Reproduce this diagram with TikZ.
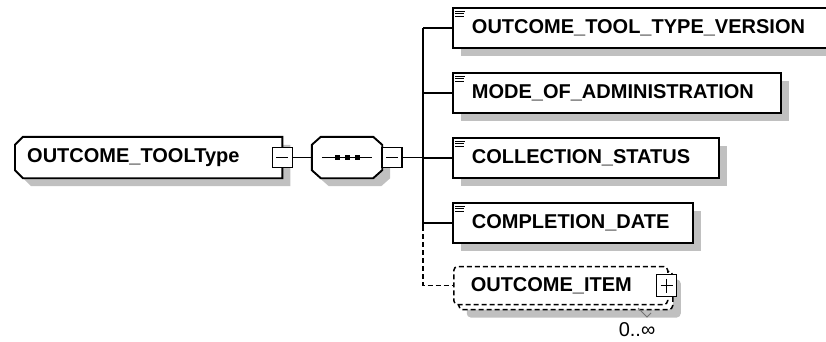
\documentclass[tikz,border=0pt]{standalone}
\usepackage{fontspec}
\setmainfont{Liberation Sans}
\usetikzlibrary{shadows,backgrounds}
\definecolor{shadowgray}{RGB}{192,192,192}
\tikzset{
  boxshadow/.style={drop shadow={shadow xshift=8pt,shadow yshift=-8pt,fill=shadowgray,opacity=1}},
  labelfont/.style={font=\fontsize{20}{24}\selectfont\bfseries},
  elem/.style={draw, fill=white, line width=1.9pt, anchor=west, inner xsep=19pt, inner ysep=0pt,
    minimum height=40pt, align=left, labelfont, boxshadow},
  typebox/.style={anchor=west, inner xsep=12pt, inner ysep=0pt, minimum height=41pt, align=left, labelfont},
  seqbox/.style={minimum width=70pt, minimum height=41pt, inner sep=0pt},
  outline/.style={draw, fill=white, line width=1.9pt, boxshadow},
  optbox/.style={draw, fill=white, line width=1.5pt, dash pattern=on 5pt off 3pt, rounded corners=4pt,
    anchor=west, inner xsep=17pt, inner ysep=0pt, minimum height=38pt, align=left, labelfont},
  minusbox/.style={draw, fill=white, line width=1.6pt, minimum width=20pt, minimum height=20pt, inner sep=0pt,
    path picture={\draw[line width=1.4pt] ([xshift=4pt]path picture bounding box.west)
      -- ([xshift=-4pt]path picture bounding box.east);}},
  plusbox/.style={draw, fill=white, line width=1.6pt, minimum width=20pt, minimum height=22pt, inner sep=0pt,
    path picture={\draw[line width=1.4pt] ([xshift=4pt]path picture bounding box.west)
      -- ([xshift=-4pt]path picture bounding box.east);
      \draw[line width=1.4pt] ([yshift=-4pt]path picture bounding box.north)
      -- ([yshift=4pt]path picture bounding box.south);}},
  link/.style={line width=1.7pt},
  optlink/.style={line width=1.4pt, dash pattern=on 5pt off 3pt},
  seqdot/.style={fill=black, inner sep=0pt, minimum size=5pt}
}
\def\makeicon#1{
  \begin{scope}[shift={(#1.north west)}]
    \draw[line width=0.9pt] (3,4) -- (13,4);
    \draw[line width=0.9pt] (3,6.5) -- (12,6.5);
    \draw[line width=0.9pt] (3,9) -- (12,9);
  \end{scope}
}

\begin{document}
\begin{tikzpicture}[x=1pt,y=-1pt]
  \useasboundingbox (0,0) rectangle (826,341);

  % complex type and its sequence
  \node[typebox, text width=243pt] (type) at (15,157.5) {OUTCOME\_TOOLType};
  \node[seqbox] (seq) at (347,157.5) {};
  \begin{pgfonlayer}{background}
    \draw[outline] ([xshift=8pt]type.north west) -- (type.north east) -- (type.south east)
      -- ([xshift=8pt]type.south west) -- ([yshift=8pt]type.south west)
      -- ([yshift=-8pt]type.north west) -- cycle;
    \draw[outline] ([xshift=9pt]seq.north west) -- ([xshift=-9pt]seq.north east)
      -- ([yshift=-8pt]seq.north east) -- ([yshift=8pt]seq.south east)
      -- ([xshift=-9pt]seq.south east) -- ([xshift=9pt]seq.south west)
      -- ([yshift=8pt]seq.south west) -- ([yshift=-8pt]seq.north west) -- cycle;
  \end{pgfonlayer}
  \node[minusbox] (typemin) at (type.east) {};
  \draw[line width=1.4pt] ([xshift=10pt]seq.west) -- ([xshift=-10pt]seq.east);
  \foreach \dx in {-10,0,10}
    \node[seqdot] at ([xshift=\dx pt]seq.center) {};
  \node[minusbox, anchor=west] (seqmin) at ([xshift=-1pt]seq.east) {};
  \draw[link] (typemin) -- (seq);

  % child elements
  \coordinate (trunk) at (423,0);
  \node[elem, text width=362pt] (el1) at (452,28) {OUTCOME\_TOOL\_TYPE\_VERSION};
  \node[elem, text width=290pt] (el2) at (452,93) {MODE\_OF\_ADMINISTRATION};
  \node[elem, text width=228pt] (el3) at (452,158) {COLLECTION\_STATUS};
  \node[elem, text width=202pt] (el4) at (452,223) {COMPLETION\_DATE};
  \foreach \e in {el1,el2,el3,el4} {
    \makeicon{\e}
    \draw[link] (\e.west -| trunk) -- (\e.west);
  }

  % optional repeated element
  \node[optbox, text width=180pt, boxshadow] (itemback) at (458,290.5) {\phantom{OUTCOME\_ITEM}};
  \node[optbox, text width=180pt] (item) at (453,285.5) {OUTCOME\_ITEM};
  \node[plusbox] (itemplus) at ([xshift=-2pt]item.east) {};
  \node[font=\fontsize{20}{22}\selectfont] (mult) at (637,330) {0..∞};
  \draw[shadowgray!60!black, line width=1pt] (638,308) -- (647,317) -- (651,313);

  % connectors
  \draw[link] (seqmin) -- (seqmin -| trunk);
  \draw[link] (el1.west -| trunk) -- ([yshift=-3pt]el4.west -| trunk);
  \draw[optlink] ([yshift=-3pt]el4.west -| trunk) -- (item.west -| trunk) -- (item.west);
\end{tikzpicture}
\end{document}
